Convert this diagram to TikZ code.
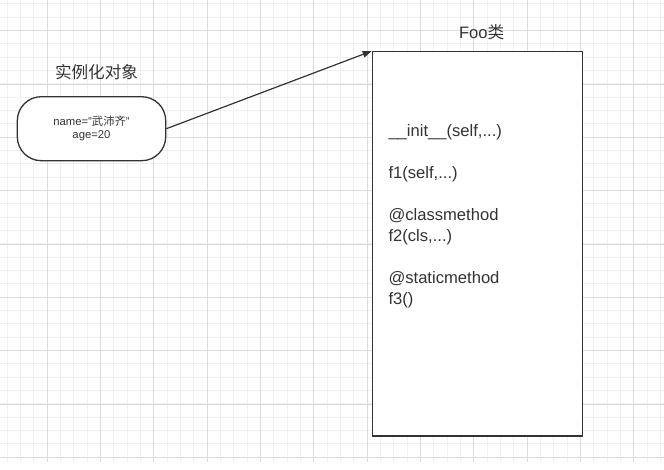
\documentclass[tikz,border=0pt]{standalone}
\usepackage{fontspec}
\setmainfont{Liberation Sans}
\newfontfamily\cjk{Noto Sans CJK SC}
\usetikzlibrary{arrows.meta}
\definecolor{gridminor}{HTML}{F0F0F0}
\definecolor{gridmajor}{HTML}{DCDCDC}
\definecolor{ink}{HTML}{333333}
\definecolor{txt}{HTML}{333333}
\tikzset{
  minorline/.style={draw=gridminor,line width=0.9pt},
  majorline/.style={draw=gridmajor,line width=1pt},
  shapeline/.style={draw=ink,line width=1.3pt,fill=white},
  member/.style={anchor=base west,inner sep=0pt,font=\fontsize{16.6}{20}\selectfont,text=txt},
  title/.style={inner sep=0pt,font=\fontsize{16.6}{20}\selectfont,text=txt},
  conn/.style={draw=ink,line width=1.2pt,-{Triangle[length=9pt,width=6.5pt]}},
}
\begin{document}
\begin{tikzpicture}[x=1pt,y=-1pt]
\useasboundingbox (0,0) rectangle (664,469);
% grid
\foreach \i in {0,...,49} {\draw[minorline] ({7+13.3333*\i},0) -- ({7+13.3333*\i},461.5);}
\foreach \i in {0,...,34} {\draw[minorline] (0,{3.67+13.3333*\i}) -- (664,{3.67+13.3333*\i});}
\foreach \i in {-1,...,11} {\draw[majorline] ({47+53.3333*\i},0) -- ({47+53.3333*\i},461.5);}
\foreach \i in {0,...,8} {\draw[majorline] (0,{30.67+53.3333*\i}) -- (664,{30.67+53.3333*\i});}
% instance
\node[title] (insttitle) at (96.5,72) {\cjk 实例化对象};
\node[shapeline,rounded corners=24pt,minimum width=148.4pt,minimum height=64pt,inner sep=0pt,
      align=center,text=txt,font=\fontsize{11.3}{13}\selectfont] (inst) at (91.5,128.7)
      {name="{\cjk 武沛齐}"\\age=20};
% class
\node[title] (footitle) at (481.7,31.7) {Foo{\cjk 类}};
\node[shapeline,minimum width=210.4pt,minimum height=384.3pt,inner sep=0pt] (foo) at (477.5,243.9) {};
\node[member] (m1) at (388.3,136.7) {\_\_init\_\_(self,...)};
\node[member] (m2) at (388.3,178.7) {f1(self,...)};
\node[member] (m3) at (388.3,220.7) {@classmethod};
\node[member] (m4) at (388.3,241.7) {f2(cls,...)};
\node[member] (m5) at (388.3,283.7) {@staticmethod};
\node[member] (m6) at (388.3,304.7) {f3()};
% connector
\draw[conn] (inst.east) -- (foo.north west);
\end{tikzpicture}
\end{document}
